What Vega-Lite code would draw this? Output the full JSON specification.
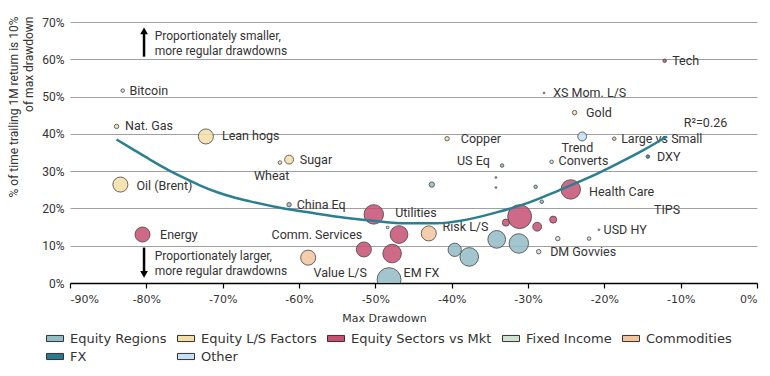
{
  "$schema": "https://vega.github.io/schema/vega-lite/v6.json",
  "width": 687,
  "height": 261,
  "autosize": {"type": "none"},
  "padding": {"left": 70, "top": 22, "right": 13, "bottom": 93},
  "background": "white",
  "config": {
    "view": {"stroke": null},
    "font": "Roboto",
    "legend": {
      "orient": "none",
      "legendX": -24,
      "legendY": 307.5,
      "direction": "horizontal",
      "columns": 5,
      "symbolType": "M-1,-0.36H1V0.36H-1Z",
      "symbolSize": 289,
      "symbolStrokeColor": "#333333",
      "symbolStrokeWidth": 1,
      "symbolOpacity": 1,
      "labelFont": "DejaVu Sans",
      "labelFontSize": 13,
      "labelColor": "#333333",
      "labelOffset": 6,
      "columnPadding": 8,
      "rowPadding": 2
    }
  },
  "datasets": {
    "points": [
      {"name": "EM FX", "cat": "Equity Regions", "x": -48.2, "y": 0.9, "w": 72.9},
      {"name": "", "cat": "Equity Sectors vs Mkt", "x": -31.1, "y": 17.8, "w": 72.9},
      {"name": "Utilities", "cat": "Equity Sectors vs Mkt", "x": -50.2, "y": 18.4, "w": 48.4},
      {"name": "", "cat": "Equity Regions", "x": -31.2, "y": 10.6, "w": 48.4},
      {"name": "Health Care", "cat": "Equity Sectors vs Mkt", "x": -24.4, "y": 25.1, "w": 48.4},
      {"name": "", "cat": "Equity Sectors vs Mkt", "x": -47.8, "y": 7.9, "w": 44.1},
      {"name": "", "cat": "Equity Regions", "x": -37.7, "y": 7.0, "w": 44.1},
      {"name": "", "cat": "Equity Sectors vs Mkt", "x": -46.9, "y": 13.0, "w": 40},
      {"name": "", "cat": "Equity Regions", "x": -34.1, "y": 11.7, "w": 40},
      {"name": "Lean hogs", "cat": "Equity L/S Factors", "x": -72.2, "y": 39.3, "w": 28.9},
      {"name": "Oil (Brent)", "cat": "Equity L/S Factors", "x": -83.4, "y": 26.4, "w": 28.9},
      {"name": "Energy", "cat": "Equity Sectors vs Mkt", "x": -80.5, "y": 13.0, "w": 28.9},
      {"name": "Comm. Services", "cat": "Equity Sectors vs Mkt", "x": -51.5, "y": 9.0, "w": 28.9},
      {"name": "Risk L/S", "cat": "Commodities", "x": -43.0, "y": 13.3, "w": 28.9},
      {"name": "Value L/S", "cat": "Commodities", "x": -58.8, "y": 6.8, "w": 28.9},
      {"name": "", "cat": "Equity Regions", "x": -39.6, "y": 8.9, "w": 22.5},
      {"name": "Sugar", "cat": "Equity L/S Factors", "x": -61.3, "y": 33.1, "w": 10},
      {"name": "Trend", "cat": "Other", "x": -22.9, "y": 39.3, "w": 10},
      {"name": "", "cat": "Equity Sectors vs Mkt", "x": -28.8, "y": 15.1, "w": 10},
      {"name": "", "cat": "Equity Sectors vs Mkt", "x": -32.9, "y": 16.2, "w": 6.4},
      {"name": "", "cat": "Equity Sectors vs Mkt", "x": -26.7, "y": 17.0, "w": 6.4},
      {"name": "", "cat": "Equity Regions", "x": -42.6, "y": 26.4, "w": 3.6},
      {"name": "Nat. Gas", "cat": "Equity L/S Factors", "x": -83.9, "y": 42.0, "w": 2.5},
      {"name": "Copper", "cat": "Equity L/S Factors", "x": -40.6, "y": 38.7, "w": 2.5},
      {"name": "China Eq", "cat": "Equity Regions", "x": -61.3, "y": 21.0, "w": 2.5},
      {"name": "", "cat": "Fixed Income", "x": -26.1, "y": 11.9, "w": 2.5},
      {"name": "DM Govvies", "cat": "Fixed Income", "x": -28.6, "y": 8.4, "w": 2.5},
      {"name": "Gold", "cat": "Equity L/S Factors", "x": -23.9, "y": 45.7, "w": 2.5},
      {"name": "Tech", "cat": "Equity Sectors vs Mkt", "x": -12.1, "y": 59.6, "w": 1.6},
      {"name": "Bitcoin", "cat": "Other", "x": -83.1, "y": 51.6, "w": 1.6},
      {"name": "Wheat", "cat": "Equity L/S Factors", "x": -62.5, "y": 32.3, "w": 1.6},
      {"name": "US Eq", "cat": "Equity Regions", "x": -33.4, "y": 31.5, "w": 1.6},
      {"name": "", "cat": "Equity Regions", "x": -29.0, "y": 25.8, "w": 1.6},
      {"name": "", "cat": "Equity Regions", "x": -28.2, "y": 21.8, "w": 1.6},
      {"name": "", "cat": "Fixed Income", "x": -22.0, "y": 11.9, "w": 1.6},
      {"name": "Converts", "cat": "Fixed Income", "x": -26.9, "y": 32.5, "w": 1.6},
      {"name": "Large vs Small", "cat": "Commodities", "x": -18.7, "y": 38.7, "w": 1.6},
      {"name": "DXY", "cat": "FX", "x": -14.3, "y": 33.9, "w": 1.6},
      {"name": "", "cat": "Fixed Income", "x": -48.4, "y": 14.9, "w": 0.9},
      {"name": "", "cat": "Equity Regions", "x": -34.2, "y": 28.3, "w": 0.4},
      {"name": "", "cat": "Equity Regions", "x": -34.2, "y": 25.6, "w": 0.4},
      {"name": "XS Mom. L/S", "cat": "Commodities", "x": -27.9, "y": 51.0, "w": 0.4},
      {"name": "USD HY", "cat": "Fixed Income", "x": -20.7, "y": 14.3, "w": 0.4}
    ],
    "labels": [
      {"label": "Tech", "x": -11.1, "y": 59.6},
      {"label": "Bitcoin", "x": -82.2, "y": 51.6},
      {"label": "Nat. Gas", "x": -82.8, "y": 42.0},
      {"label": "Lean hogs", "x": -70.1, "y": 39.3},
      {"label": "Oil (Brent)", "x": -81.3, "y": 26.1},
      {"label": "Energy", "x": -78.2, "y": 13.0},
      {"label": "Sugar", "x": -59.9, "y": 33.1},
      {"label": "Wheat", "x": -65.9, "y": 28.8},
      {"label": "Copper", "x": -38.8, "y": 38.5},
      {"label": "US Eq", "x": -39.3, "y": 32.8},
      {"label": "China Eq", "x": -60.3, "y": 20.8},
      {"label": "Utilities", "x": -47.4, "y": 18.9},
      {"label": "Comm. Services", "x": -63.6, "y": 13.0},
      {"label": "Risk L/S", "x": -41.2, "y": 14.9},
      {"label": "Value L/S", "x": -58.1, "y": 2.8},
      {"label": "EM FX", "x": -46.3, "y": 2.8},
      {"label": "DM Govvies", "x": -27.1, "y": 8.2},
      {"label": "USD HY", "x": -20.1, "y": 14.1},
      {"label": "Health Care", "x": -22.0, "y": 24.5},
      {"label": "TIPS", "x": -13.5, "y": 19.7},
      {"label": "Trend", "x": -25.6, "y": 36.3},
      {"label": "Converts", "x": -26.0, "y": 32.6},
      {"label": "Large vs Small", "x": -17.8, "y": 38.5},
      {"label": "DXY", "x": -13.1, "y": 33.9},
      {"label": "Gold", "x": -22.4, "y": 45.7},
      {"label": "XS Mom. L/S", "x": -26.7, "y": 51.0},
      {"label": "R²=0.26", "x": -9.6, "y": 42.8}
    ],
    "trend": [
      {"x": -83.9, "y": 38.5},
      {"x": -81.8, "y": 35.9},
      {"x": -79.6, "y": 33.2},
      {"x": -77.4, "y": 30.6},
      {"x": -75.2, "y": 28.3},
      {"x": -73.0, "y": 26.2},
      {"x": -70.8, "y": 24.4},
      {"x": -68.6, "y": 23.0},
      {"x": -66.4, "y": 21.9},
      {"x": -62.5, "y": 20.2},
      {"x": -58.0, "y": 18.7},
      {"x": -54.0, "y": 17.5},
      {"x": -50.0, "y": 16.6},
      {"x": -46.0, "y": 16.0},
      {"x": -42.0, "y": 16.0},
      {"x": -38.0, "y": 17.0},
      {"x": -34.0, "y": 19.0},
      {"x": -30.0, "y": 21.5},
      {"x": -26.0, "y": 24.8},
      {"x": -22.0, "y": 28.3},
      {"x": -18.0, "y": 32.3},
      {"x": -15.0, "y": 35.5},
      {"x": -11.8, "y": 39.3}
    ],
    "arrows": [
      {"x": -80.3, "y": 60.7, "y2": 67.0},
      {"x": -80.3, "y": 9.5, "y2": 3.0}
    ],
    "heads": [
      {"x": -80.3, "y": 67.6, "dir": "up"},
      {"x": -80.3, "y": 2.3, "dir": "down"}
    ],
    "notes": [
      {"t": "Proportionately smaller,|more regular drawdowns", "x": -78.9, "y": 67.7},
      {"t": "Proportionately larger,|more regular drawdowns", "x": -78.9, "y": 8.7}
    ]
  },
  "encoding": {
    "x": {
      "field": "x",
      "type": "quantitative",
      "scale": {"domain": [-90, 0], "nice": false, "zero": false},
      "axis": {
        "title": "Max Drawdown",
        "values": [-90, -80, -70, -60, -50, -40, -30, -20, -10, 0],
        "labelExpr": "datum.value + '%'",
        "grid": false,
        "domainColor": "#000000",
        "domainWidth": 1.5,
        "tickColor": "#000000",
        "tickSize": 5,
        "tickWidth": 1.2,
        "labelFont": "DejaVu Sans",
        "labelFontSize": 11,
        "labelColor": "#333333",
        "labelPadding": 5,
        "titleFont": "DejaVu Sans",
        "titleFontSize": 11,
        "titleFontWeight": "normal",
        "titleColor": "#333333",
        "titleX": 314,
        "titleY": 35,
        "titleBaseline": "middle",
        "titleAlign": "center"
      }
    },
    "y": {
      "field": "y",
      "type": "quantitative",
      "scale": {"domain": [0, 70], "nice": false},
      "axis": {
        "title": ["% of time trailing 1M return is 10%", "of max drawdown"],
        "values": [0, 10, 20, 30, 40, 50, 60, 70],
        "labelExpr": "datum.value + '%'",
        "grid": true,
        "gridColor": "#a0a0a0",
        "gridWidth": 1,
        "domain": false,
        "ticks": false,
        "labelPadding": 6,
        "labelFontSize": 12,
        "labelColor": "#333333",
        "titleFontSize": 12,
        "titleFontWeight": "normal",
        "titleColor": "#333333",
        "titleAnchor": "end",
        "titleAngle": -90,
        "titleX": -62,
        "titleY": -6,
        "titleBaseline": "top",
        "titleAlign": "right",
        "titleLineHeight": 15
      }
    }
  },
  "layer": [
    {
      "data": {"name": "points"},
      "mark": {"type": "circle", "opacity": 1, "fillOpacity": 0.85, "stroke": "#444444", "strokeWidth": 0.8, "clip": true},
      "encoding": {
        "color": {
          "field": "cat",
          "type": "nominal",
          "title": null,
          "scale": {
            "domain": ["Equity Regions", "Equity L/S Factors", "Equity Sectors vs Mkt", "Fixed Income", "Commodities", "FX", "Other"],
            "range": ["#93bcc6", "#f3dea6", "#c64f72", "#d2e2d0", "#f1c49d", "#2b7a8b", "#c3e2f7"]
          }
        },
        "size": {"field": "w", "type": "quantitative", "scale": {"domain": [0, 100], "range": [0, 785], "zero": true}, "legend": null}
      }
    },
    {
      "data": {"name": "labels"},
      "mark": {"type": "text", "align": "left", "baseline": "middle", "fontSize": 12.5, "color": "#333333", "font": "Roboto"},
      "encoding": {"text": {"field": "label", "type": "nominal"}}
    },
    {
      "data": {"name": "trend"},
      "mark": {"type": "line", "color": "#2b7f90", "strokeWidth": 2.5, "interpolate": "monotone"},
      "encoding": {}
    },
    {
      "data": {"name": "arrows"},
      "mark": {"type": "rule", "color": "#000000", "strokeWidth": 2.5},
      "encoding": {"y2": {"field": "y2"}}
    },
    {
      "data": {"name": "heads"},
      "mark": {"type": "point", "filled": true, "color": "#000000", "opacity": 1, "size": 60},
      "encoding": {
        "shape": {"field": "dir", "type": "nominal", "scale": {"domain": ["up", "down"], "range": ["triangle-up", "triangle-down"]}, "legend": null}
      }
    },
    {
      "data": {"name": "notes"},
      "mark": {"type": "text", "align": "left", "baseline": "top", "fontSize": 12, "lineHeight": 15, "lineBreak": "|", "color": "#333333", "font": "Roboto"},
      "encoding": {"text": {"field": "t", "type": "nominal"}}
    }
  ]
}
